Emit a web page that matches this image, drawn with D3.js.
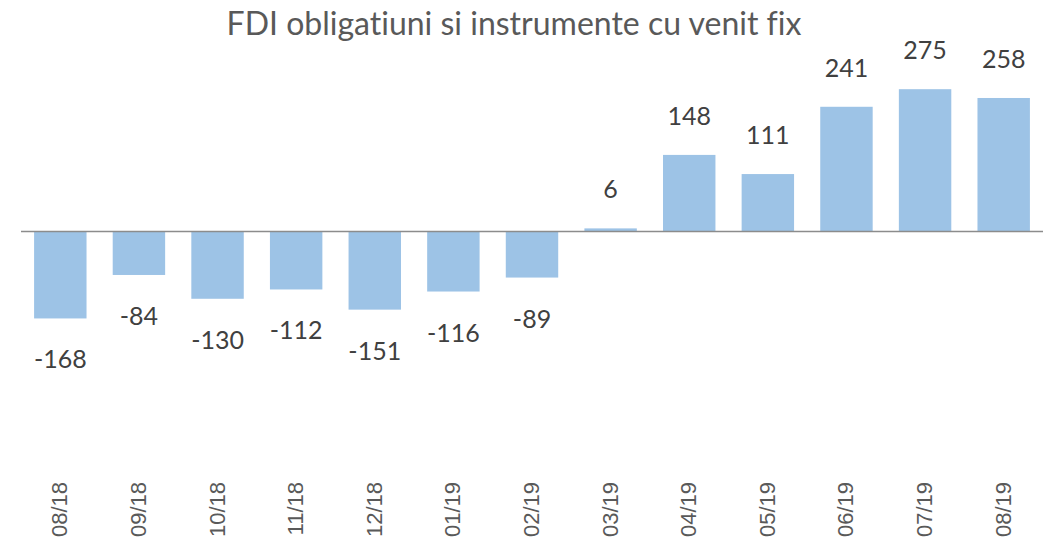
<!DOCTYPE html>
<html>
<head>
<meta charset="utf-8">
<script src="https://cdn.jsdelivr.net/npm/d3@7"></script>
<style>
  body { margin: 0; background: #fff; }
  svg { display: block; }
  text { font-variant-ligatures: none; }
</style>
</head>
<body>
<div id="chart"></div>
<script>
const title = 'FDI obligatiuni si instrumente cu venit fix';
const months = ['08/18', '09/18', '10/18', '11/18', '12/18', '01/19', '02/19',
  '03/19', '04/19', '05/19', '06/19', '07/19', '08/19'];
const values = [-168, -84, -130, -112, -151, -116, -89, 6, 148, 111, 241, 275, 258];

const width = 1051;
const height = 543;
const barColor = '#9dc3e6';

const svg = d3.select('#chart').append('svg')
  .attr('width', width)
  .attr('height', height);

const x = d3.scaleBand()
  .domain(months)
  .range([21, 1043])
  .paddingInner(0.333)
  .paddingOuter(0.1665);

// 0.5175 px per unit, zero at y=231.5
const y = d3.scaleLinear()
  .domain([-300, 275])
  .range([231.5 + 300 * 0.5175, 231.5 - 275 * 0.5175]);

// titlu
svg.append('text')
  .attr('x', 514)
  .attr('y', 35)
  .attr('text-anchor', 'middle')
  .attr('font-family', 'Lato, sans-serif')
  .attr('font-size', 32)
  .attr('fill', '#595959')
  .text(title);

// bare
svg.selectAll('rect.bar')
  .data(values)
  .join('rect')
  .attr('class', 'bar')
  .attr('x', (d, i) => x(months[i]))
  .attr('width', x.bandwidth())
  .attr('y', d => y(Math.max(0, d)))
  .attr('height', d => Math.abs(y(d) - y(0)))
  .attr('fill', barColor);

// axa zero
svg.append('line')
  .attr('x1', 21)
  .attr('x2', 1043)
  .attr('y1', y(0))
  .attr('y2', y(0))
  .attr('stroke', '#8c8c8c')
  .attr('stroke-width', 1.5);

// etichete valori
svg.selectAll('text.val')
  .data(values)
  .join('text')
  .attr('class', 'val')
  .attr('x', (d, i) => x(months[i]) + x.bandwidth() / 2)
  .attr('y', d => d >= 0 ? y(d) - 30 : y(d) + 50)
  .attr('text-anchor', 'middle')
  .attr('font-family', 'Lato, sans-serif')
  .attr('font-size', 25)
  .attr('fill', '#404040')
  .text(d => d);

// etichete luni (rotite)
svg.selectAll('text.month')
  .data(months)
  .join('text')
  .attr('class', 'month')
  .attr('transform', d => `translate(${x(d) + x.bandwidth() / 2 + 7},482) rotate(-90)`)
  .attr('text-anchor', 'end')
  .attr('font-family', '"Liberation Sans", Arial, sans-serif')
  .attr('font-size', 22)
  .attr('fill', '#595959')
  .text(d => d);
</script>
</body>
</html>
